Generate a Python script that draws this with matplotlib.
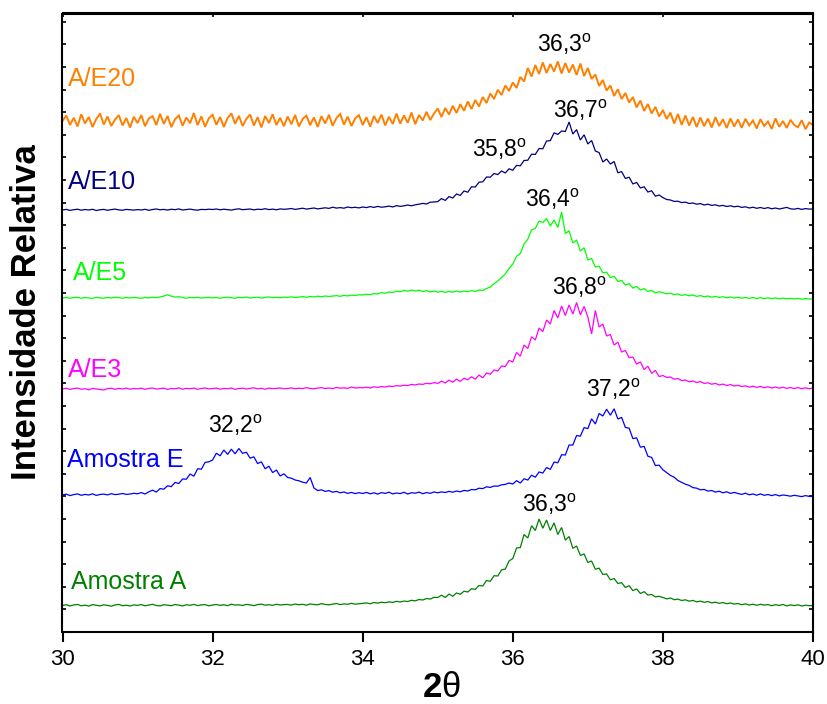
import numpy as np
import matplotlib
matplotlib.use("Agg")
import matplotlib.pyplot as plt

plt.rcParams['font.family'] = ['Liberation Sans', 'DejaVu Sans']
plt.rcParams['mathtext.fontset'] = 'custom'
plt.rcParams['mathtext.rm'] = 'Liberation Sans'
plt.rcParams['mathtext.bf'] = 'Liberation Sans:bold'
plt.rcParams['mathtext.it'] = 'Liberation Sans:italic'

# 2-theta scan: 30.00 .. 40.00 deg, step 0.05 deg (201 points)
scan_start, scan_stop = 30.0, 40.0

# relative intensities (a.u., above each trace's own baseline)
amostra_a = [
    0.0, 0.8, -0.5, 0.6, 1.0, -0.3, 0.4, -0.6, 0.9, 0.2, -0.4, 0.7, 0.1, -0.7, 0.5, 1.1, -0.2, 0.3, -0.5, 0.6,
    0.2, 0.9, -0.3, 0.5, 1.2, 0.0, -0.4, 0.8, 0.3, -0.2, 1.0, 0.4, -0.5, 0.7, 0.2, 1.1, -0.1, 0.6, 0.9, -0.3,
    0.5, 1.0, 0.1, 0.8, -0.2, 1.3, 0.4, 0.7, 0.0, 1.1, 0.6, -0.1, 0.9, 1.4, 0.3, 0.8, 0.2, 1.2, 0.5, 0.9,
    1.0, 0.4, 1.5, 0.8, 1.2, 0.3, 1.6, 1.0, 0.7, 1.9, 1.1, 0.6, 1.4, 2.0, 0.9, 1.6, 1.2, 2.2, 1.3, 1.7,
    2.0, 2.6, 1.7, 3.0, 2.4, 3.3, 2.8, 3.6, 3.1, 4.2, 3.5, 4.4, 4.0, 5.2, 4.6, 6.0, 5.5, 7.0, 6.4, 8.2,
    8.0, 10.3, 8.1, 11.4, 9.3, 12.5, 11.2, 14.3, 13.5, 16.8, 16.1, 20.0, 19.5, 25.0, 24.2, 29.8, 29.5, 35.6, 36.4, 44.5,
    47.0, 57.5, 58.0, 71.0, 67.5, 79.8, 75.0, 86.5, 77.2, 85.5, 75.0, 82.6, 71.0, 78.0, 65.4, 69.0, 57.2, 59.5, 50.0, 51.6,
    43.0, 44.5, 36.2, 37.4, 31.0, 31.6, 25.6, 27.0, 22.0, 22.8, 18.0, 19.8, 14.8, 16.6, 12.0, 13.8, 10.5, 11.0, 8.6, 9.2,
    8.0, 6.6, 7.5, 5.8, 6.4, 5.0, 5.7, 4.3, 5.1, 3.6, 4.4, 3.2, 4.0, 2.6, 3.3, 2.2, 3.0, 1.8, 2.5, 1.4,
    2.0, 0.8, 1.6, 0.5, 1.3, 0.2, 1.2, 0.4, 0.9, -0.2, 0.8, 0.1, 1.0, -0.4, 0.6, -0.1, 0.7, -0.5, 0.3, -0.2, 0.0,
]

amostra_e = [
    0.0, 0.9, -0.6, 0.4, 1.1, -0.3, 0.6, 0.0, 1.2, -0.4, 0.5, 0.9, 0.1, 1.3, 0.4, 0.8, 1.5, 0.6, 1.0, 1.7,
    1.2, 2.4, 1.0, 3.2, 4.8, 3.0, 6.4, 5.8, 9.2, 8.4, 12.6, 11.5, 16.0, 15.8, 21.0, 18.8, 26.2, 25.8, 32.6, 33.2,
    35.0, 41.8, 39.2, 45.0, 40.6, 45.8, 41.2, 46.5, 41.6, 42.8, 36.8, 38.2, 31.4, 33.2, 26.2, 28.8, 22.4, 25.0, 19.0, 21.2,
    17.5, 16.8, 15.0, 14.2, 12.8, 12.0, 17.5, 7.0, 4.5, 5.2, 3.6, 4.4, 2.8, 3.6, 2.2, 3.0, 1.6, 2.6, 1.4, 2.3,
    1.5, 2.6, 1.2, 2.2, 0.9, 2.4, 1.6, 2.8, 1.1, 2.0, 1.4, 2.7, 1.0, 2.3, 1.8, 2.9, 1.3, 2.4, 1.7, 3.0,
    2.2, 3.1, 2.5, 3.6, 2.8, 4.0, 3.2, 4.6, 4.0, 5.5, 5.2, 6.8, 6.4, 8.2, 7.6, 9.0, 8.8, 10.2, 10.6, 12.0,
    11.0, 14.3, 12.0, 16.2, 15.0, 19.8, 17.8, 23.0, 22.0, 27.5, 25.6, 33.0, 32.2, 40.2, 40.0, 50.0, 50.0, 59.5, 58.8, 67.4,
    66.4, 76.2, 71.0, 81.5, 79.0, 85.8, 79.8, 86.2, 76.0, 77.6, 67.6, 66.8, 56.4, 57.2, 47.8, 48.6, 38.8, 37.6, 29.5, 29.8,
    25.2, 22.4, 19.6, 17.8, 14.5, 12.6, 10.8, 9.6, 7.4, 6.8, 5.2, 5.6, 3.9, 4.5, 2.9, 3.8, 2.2, 3.2, 1.6, 2.6,
    1.5, 0.6, 1.8, 0.2, 1.0, -0.2, 1.1, -0.3, 0.5, -0.6, 0.4, -0.9, 0.0, -0.5, -1.2, -0.3, -1.0, -1.6, -0.6, -1.4, -1.5,
]

ae3 = [
    0.0, 0.7, -0.4, 0.5, 0.9, -0.2, 0.3, -0.8, 0.6, 0.1, -0.5, -1.0, 0.4, 0.8, -0.3, 0.6, 0.0, 0.9, -0.2, 0.5,
    0.2, 0.8, -0.3, 0.6, 1.0, -0.1, 0.4, 0.9, -0.4, 0.5, 0.2, 1.1, -0.2, 0.6, 0.3, 0.9, -0.3, 0.5, 1.0, 0.1,
    0.4, 0.9, -0.2, 0.6, 0.2, 1.0, -0.3, 0.5, 0.8, 0.0, 0.6, 1.2, 0.1, 0.7, -0.2, 0.9, 0.4, 0.6, 1.0, 0.2,
    0.5, 1.1, 0.2, 0.8, 0.4, 1.3, 0.6, 0.2, 0.9, 1.4, 0.5, 1.0, 0.3, 1.6, 0.8, 1.2, 0.6, 2.0, 1.0, 1.4,
    1.2, 1.8, 1.0, 2.2, 1.6, 2.5, 2.0, 3.0, 2.4, 3.4, 2.9, 3.8, 3.4, 4.6, 4.0, 5.0, 4.6, 5.8, 5.2, 6.4,
    5.6, 7.8, 6.0, 8.8, 6.8, 9.8, 7.6, 10.8, 9.2, 12.2, 9.8, 14.0, 11.2, 16.0, 14.8, 19.0, 18.0, 23.0, 22.5, 28.6,
    27.0, 36.5, 32.8, 44.0, 40.5, 52.2, 49.0, 61.0, 57.4, 69.0, 65.0, 78.5, 71.0, 83.0, 73.5, 84.0, 75.0, 86.5, 74.2, 82.6,
    72.0, 55.0, 78.5, 62.0, 65.0, 53.0, 54.5, 44.0, 46.8, 37.0, 38.5, 31.2, 32.0, 24.8, 27.2, 19.4, 22.8, 15.6, 18.6, 12.4,
    13.5, 11.6, 12.0, 9.8, 10.5, 8.4, 9.0, 7.2, 8.0, 6.5, 7.4, 5.6, 6.2, 4.8, 5.6, 4.0, 4.9, 3.5, 4.4, 3.0,
    3.8, 2.4, 3.2, 1.8, 2.9, 1.6, 2.6, 1.2, 2.3, 1.0, 2.0, 0.8, 1.8, 0.6, 1.5, 0.4, 1.4, 0.3, 1.2, 0.2, 1.0,
]

ae5 = [
    0.0, 0.6, -0.3, 0.4, 0.8, -0.2, 0.5, 0.1, -0.4, 0.7, 0.2, -0.3, 0.6, 0.0, 0.9, 0.3, -0.2, 0.5, 0.1, 0.7,
    0.2, -0.3, 0.6, 0.1, 0.8, 0.4, 1.0, 2.0, 3.2, 1.8, 0.9, 1.3, 0.5, -0.2, 0.6, 0.2, 0.8, -0.1, 0.4, 0.7,
    0.1, 0.6, -0.3, 0.5, 0.9, 0.2, -0.2, 0.7, 0.3, 1.0, 0.0, 0.5, 0.8, -0.1, 0.6, 1.1, 0.3, 0.7, 0.2, 0.9,
    0.6, 1.2, 0.4, 0.9, 1.4, 0.7, 1.6, 1.0, 1.8, 1.3, 2.0, 1.5, 1.9, 2.4, 1.7, 2.6, 2.1, 2.9, 2.5, 3.2,
    3.0, 3.8, 3.3, 4.5, 4.0, 5.4, 4.8, 6.0, 5.5, 6.8, 6.2, 7.6, 6.8, 8.0, 7.0, 7.8, 6.4, 7.4, 6.0, 7.0,
    5.8, 6.8, 5.6, 6.6, 5.9, 7.0, 6.0, 6.9, 6.2, 7.4, 6.6, 8.0, 7.6, 9.5, 11.0, 14.2, 17.0, 20.5, 24.0, 29.5,
    34.0, 41.8, 44.5, 54.0, 58.8, 68.2, 69.5, 77.0, 75.5, 79.5, 72.0, 78.0, 70.5, 86.0, 64.5, 67.2, 55.0, 58.0, 47.0, 50.2,
    38.0, 39.5, 31.0, 31.8, 25.2, 25.8, 20.4, 21.8, 16.6, 17.6, 13.0, 14.4, 10.0, 11.6, 8.0, 9.4, 6.5, 7.6, 5.0, 6.2,
    5.4, 4.2, 4.8, 3.4, 4.0, 2.6, 3.4, 2.2, 3.0, 1.6, 2.4, 1.2, 2.0, 0.8, 1.6, 0.5, 1.3, 0.2, 1.0, 0.0,
    0.8, -0.2, 0.6, -0.4, 0.5, -0.5, 0.3, -0.7, 0.2, -0.6, 0.0, -0.9, -0.1, -0.8, -0.3, -1.0, -0.4, -1.2, -0.6, -1.1, -1.0,
]

ae10 = [
    0.0, 0.6, -0.4, 0.3, 0.8, -0.2, 0.5, 0.0, 0.7, -0.5, 0.2, 0.6, -0.3, 0.4, 0.9, 0.1, -0.2, 0.6, 0.3, -0.1,
    0.4, 0.0, 0.7, -0.3, 0.5, 1.0, 0.2, 0.6, -0.1, 0.8, 0.3, 1.1, 0.0, 0.5, 0.9, 0.2, -0.2, 0.6, 0.4, 0.8,
    0.5, 1.0, 0.2, 0.8, 0.4, -0.1, 0.7, 1.2, 0.3, 0.6, 1.0, 0.1, 0.8, 0.5, 1.3, 0.4, 0.9, 0.2, 1.1, 0.7,
    1.0, 1.5, 0.6, 1.2, 1.8, 0.9, 1.4, 2.0, 1.1, 1.7, 2.2, 1.6, 2.8, 1.9, 2.4, 1.8, 3.0, 2.3, 2.7, 2.1,
    3.0, 2.4, 3.4, 2.6, 3.6, 2.8, 3.2, 3.9, 3.0, 4.4, 3.6, 4.2, 5.0, 4.2, 5.2, 5.8, 6.6, 6.0, 7.8, 8.0,
    8.4, 11.4, 9.6, 13.4, 12.0, 16.0, 14.6, 19.0, 17.8, 23.2, 23.0, 27.8, 28.2, 33.0, 32.8, 36.5, 35.4, 39.0, 37.0, 41.2,
    39.8, 44.6, 44.2, 49.5, 49.8, 55.8, 55.6, 61.5, 61.2, 69.0, 69.4, 77.2, 75.6, 79.0, 78.5, 88.0, 76.0, 80.4, 70.0, 75.2,
    66.0, 69.5, 59.0, 57.4, 48.0, 51.0, 46.0, 48.5, 37.2, 38.4, 31.5, 32.8, 26.0, 27.6, 22.0, 23.2, 18.0, 19.2, 13.8, 15.0,
    12.4, 10.5, 10.0, 8.6, 8.8, 7.4, 7.9, 6.5, 7.0, 5.8, 6.4, 5.0, 5.8, 4.6, 5.2, 4.0, 4.6, 3.5, 4.2, 3.2,
    3.8, 2.6, 3.2, 2.0, 2.8, 1.7, 2.5, 1.5, 2.4, 1.2, 2.0, 1.0, 1.8, 2.6, 1.2, 0.8, 1.6, 0.6, 1.4, 0.9, 1.0,
]

ae20 = [
    0.0, 5.5, -4.0, 3.2, -5.5, 6.8, -2.5, 4.0, -6.0, 2.0, 7.5, -3.5, 4.5, -5.0, 1.5, 5.8, -4.5, 3.0, -6.5, 4.2,
    -2.0, 6.0, -5.2, 2.5, 4.8, -4.0, 7.2, -3.0, 5.0, -6.2, 1.8, 5.5, -4.8, 3.5, -2.2, 8.0, -4.2, 4.6, -5.8, 2.8,
    6.2, -3.8, 4.0, -6.0, 3.0, 7.6, -2.8, 5.2, -5.0, 2.2, 6.5, -4.5, 3.8, -6.4, 5.0, -2.0, 6.8, -4.0, 3.2, -5.2,
    4.5, -3.2, 6.0, -5.5, 2.0, 5.4, -4.2, 3.6, -6.0, 4.8, -2.5, 6.2, -4.8, 3.0, 7.0, -3.6, 4.4, -5.0, 2.6, 5.8,
    -4.0, 3.8, -5.6, 5.0, -2.0, 6.4, -4.4, 4.2, -3.0, 7.4, -2.6, 5.6, -1.8, 8.5, -3.2, 6.0, 0.5, 9.2, 1.0, 7.5,
    12.5, 4.0, 13.0, 6.5, 15.2, 8.0, 16.8, 10.2, 19.5, 12.0, 21.0, 14.5, 24.0, 18.0, 27.5, 22.0, 31.2, 26.0, 35.5, 30.0,
    38.5, 33.0, 44.0, 39.5, 53.0, 44.5, 56.0, 47.0, 58.5, 48.0, 57.0, 49.5, 59.5, 47.5, 58.0, 48.5, 56.5, 46.0, 57.5, 45.0,
    53.0, 42.0, 46.5, 35.0, 41.0, 30.5, 35.5, 25.0, 31.8, 22.0, 28.0, 18.5, 24.0, 13.5, 20.5, 10.0, 17.0, 7.5, 14.2, 4.5,
    11.0, 2.0, 8.4, -2.5, 7.0, -3.8, 5.5, -4.5, 4.0, -6.0, 3.5, -5.2, 2.4, -6.5, 3.8, -5.0, 1.8, -7.0, 2.5, -5.5,
    1.5, -6.8, 2.2, -4.5, 0.5, -7.5, 1.8, -5.0, -0.5, -8.0, 2.6, -5.8, 0.0, -7.0, 1.2, -4.0, -6.2, 0.8, -8.2, -1.5, -4.0,
]

series_names = ["Amostra A", "Amostra E", "A/E3", "A/E5", "A/E10", "A/E20"]
series_values = [amostra_a, amostra_e, ae3, ae5, ae10, ae20]
baseline_offsets = [26.5, 137.0, 243.0, 334.0, 422.0, 511.0]
series_colors = ["#008000", "#0000FF", "#FF00FF", "#00FF00", "#000080", "#FF8000"]
series_widths = [0.9, 0.9, 0.9, 0.9, 0.9, 1.4]

# curve labels: (x, baseline y)
label_pos = [(30.109, 43.0), (30.056, 165.3), (30.077, 255.0), (30.136, 352.0), (30.069, 443.0), (30.073, 546.0)]

# peak annotations
peak_texts = ["36,3", "32,2", "37,2", "36,8", "36,4", "35,8", "36,7", "36,3"]
peak_pos = [(36.118, 120.3), (31.943, 199.0), (36.97, 235.0), (36.518, 337.0),
            (36.163, 425.0), (35.45, 475.3), (36.54, 514.0), (36.318, 580.3)]

xticks = [30, 32, 34, 36, 38, 40]

fig = plt.figure(figsize=(8.28, 7.04), dpi=100)
ax = fig.add_axes([62.5 / 828, 72 / 704, 750.5 / 828, 618.5 / 704])

for vals, off, col, lw in zip(series_values, baseline_offsets, series_colors, series_widths):
    v = np.asarray(vals, dtype=float)
    x = np.linspace(scan_start, scan_stop, len(v))
    ax.plot(x, v + off, color=col, lw=lw, solid_joinstyle='miter')

for name, (lx, ly), col in zip(series_names, label_pos, series_colors):
    ax.text(lx, ly, name, color=col, fontsize=18, ha='left', va='baseline')

for t, (px, py) in zip(peak_texts, peak_pos):
    ax.text(px, py, t + r"$^{\mathrm{o}}$", color='black', fontsize=16.5, ha='left', va='baseline')

ax.set_xlim(scan_start, scan_stop)
ax.set_ylim(0, 618.5)
ax.set_xticks(xticks)
ax.set_xticklabels([str(t) for t in xticks])
ax.set_yticks(np.arange(0, 618.5, 22.6))
ax.set_yticklabels([])

for s in ax.spines.values():
    s.set_linewidth(1.5)

ax.tick_params(axis='x', which='major', direction='out', length=7.5, width=1.5,
               labelsize=16, pad=4.5, top=False, bottom=True)
ax.tick_params(axis='y', which='major', direction='in', length=3, width=1.2,
               left=True, right=True, labelleft=False)

sec = ax.secondary_xaxis('top')
sec.set_xticks(xticks)
sec.tick_params(axis='x', direction='in', length=3, width=1.2, labeltop=False)
sec.spines['top'].set_linewidth(1.5)

ax.set_xlabel(r"$\mathbf{2}\mathrm{\theta}$", fontsize=25)
ax.xaxis.label.set_va('center')
ax.xaxis.set_label_coords(0.505, -0.0905)

ax.set_ylabel("Intensidade Relativa", fontsize=25, fontweight='bold')
ax.yaxis.label.set_va('center')
ax.yaxis.set_label_coords(-0.048, 0.517)

fig.savefig("out.png", dpi=100)
